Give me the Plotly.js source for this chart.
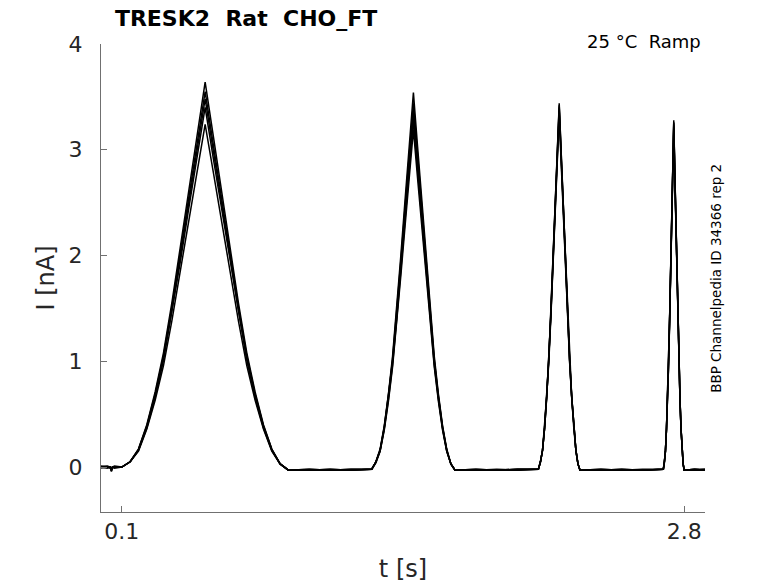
<!DOCTYPE html>
<html>
<head>
<meta charset="utf-8" />
<script src="https://cdn.plot.ly/plotly-3.0.1.min.js"></script>
<style>
  html, body { margin: 0; padding: 0; background: #fff; }
  #kurve { width: 778px; height: 583px; }
</style>
</head>
<body>
<div id="kurve"></div>
<script>
  // Zeitpunkte (s), gemeinsam fuer alle Sweeps
  const zeit = [
    0, 0.03, 0.045, 0.05, 0.055, 0.065, 0.1,
    0.14, 0.18, 0.22, 0.26, 0.30, 0.34, 0.38, 0.42, 0.46, 0.50,
    0.54, 0.58, 0.62, 0.66, 0.70, 0.74, 0.78, 0.82, 0.86, 0.90,
    1.0, 1.1, 1.2, 1.3,
    1.32, 1.34, 1.36, 1.38, 1.40, 1.42, 1.44, 1.46, 1.48, 1.50,
    1.52, 1.54, 1.56, 1.58, 1.60, 1.62, 1.64, 1.66, 1.68, 1.70,
    1.8, 1.9, 2.0, 2.1,
    2.11, 2.12, 2.13, 2.14, 2.15, 2.16, 2.17, 2.18, 2.19, 2.20,
    2.21, 2.22, 2.23, 2.24, 2.25, 2.26, 2.27, 2.28, 2.29, 2.30,
    2.4, 2.5, 2.6, 2.7,
    2.705, 2.71, 2.715, 2.72, 2.725, 2.73, 2.735, 2.74, 2.745, 2.75,
    2.755, 2.76, 2.765, 2.77, 2.775, 2.78, 2.785, 2.79, 2.795, 2.80,
    2.85, 2.9
  ];

  // Strom (nA), ein Array pro Sweep
  const sweep1 = [
    0.00, 0.01, 0.00, -0.04, 0.00, 0.00, 0.00,
    0.05, 0.17, 0.40, 0.71, 1.08, 1.55, 2.07, 2.60, 3.12, 3.64,
    3.12, 2.60, 2.07, 1.55, 1.08, 0.71, 0.40, 0.17, 0.03, -0.03,
    -0.03, -0.02, -0.03, -0.02,
    0.05, 0.17, 0.39, 0.69, 1.05, 1.51, 2.01, 2.53, 3.03, 3.54,
    3.03, 2.53, 2.01, 1.51, 1.05, 0.69, 0.39, 0.17, 0.03, -0.03,
    -0.03, -0.03, -0.02, -0.02,
    0.05, 0.16, 0.38, 0.67, 1.02, 1.47, 1.96, 2.46, 2.95, 3.44,
    2.95, 2.46, 1.96, 1.47, 1.02, 0.67, 0.38, 0.16, 0.03, -0.03,
    -0.03, -0.02, -0.03, -0.02,
    0.05, 0.15, 0.36, 0.64, 0.97, 1.40, 1.87, 2.34, 2.81, 3.28,
    2.81, 2.34, 1.87, 1.40, 0.97, 0.64, 0.36, 0.15, 0.03, -0.03,
    -0.02, -0.03
  ];
  const sweep2 = [
    -0.01, 0.00, -0.01, -0.03, -0.01, 0.00, 0.00,
    0.05, 0.17, 0.39, 0.69, 1.05, 1.51, 2.02, 2.53, 3.04, 3.55,
    3.04, 2.53, 2.02, 1.51, 1.05, 0.69, 0.39, 0.17, 0.03, -0.03,
    -0.02, -0.03, -0.02, -0.02,
    0.05, 0.16, 0.38, 0.67, 1.02, 1.47, 1.96, 2.46, 2.95, 3.44,
    2.95, 2.46, 1.96, 1.47, 1.02, 0.67, 0.38, 0.16, 0.03, -0.03,
    -0.02, -0.03, -0.03, -0.02,
    0.05, 0.16, 0.38, 0.67, 1.02, 1.46, 1.95, 2.44, 2.93, 3.42,
    2.93, 2.44, 1.95, 1.46, 1.02, 0.67, 0.38, 0.16, 0.03, -0.03,
    -0.03, -0.03, -0.02, -0.02,
    0.05, 0.15, 0.36, 0.64, 0.97, 1.39, 1.85, 2.33, 2.79, 3.26,
    2.79, 2.33, 1.85, 1.39, 0.97, 0.64, 0.36, 0.15, 0.03, -0.03,
    -0.03, -0.02
  ];
  const sweep3 = [
    0.00, -0.01, 0.00, -0.04, 0.00, 0.01, 0.00,
    0.05, 0.16, 0.38, 0.68, 1.03, 1.48, 1.98, 2.48, 2.98, 3.48,
    2.98, 2.48, 1.98, 1.48, 1.03, 0.68, 0.38, 0.16, 0.03, -0.03,
    -0.03, -0.03, -0.02, -0.02,
    0.05, 0.16, 0.37, 0.66, 1.00, 1.43, 1.91, 2.40, 2.88, 3.36,
    2.88, 2.40, 1.91, 1.43, 1.00, 0.66, 0.37, 0.16, 0.03, -0.03,
    -0.03, -0.02, -0.03, -0.02,
    0.05, 0.16, 0.37, 0.66, 1.01, 1.45, 1.93, 2.43, 2.91, 3.40,
    2.91, 2.43, 1.93, 1.45, 1.01, 0.66, 0.37, 0.16, 0.03, -0.03,
    -0.02, -0.03, -0.03, -0.02,
    0.05, 0.15, 0.36, 0.63, 0.97, 1.38, 1.85, 2.32, 2.79, 3.25,
    2.79, 2.32, 1.85, 1.38, 0.97, 0.63, 0.36, 0.15, 0.03, -0.03,
    -0.02, -0.02
  ];
  const sweep4 = [
    0.01, 0.00, 0.00, -0.02, 0.00, 0.00, 0.00,
    0.05, 0.16, 0.37, 0.66, 1.01, 1.45, 1.93, 2.43, 2.91, 3.40,
    2.91, 2.43, 1.93, 1.45, 1.01, 0.66, 0.37, 0.16, 0.03, -0.03,
    -0.02, -0.03, -0.03, -0.02,
    0.05, 0.15, 0.36, 0.64, 0.97, 1.40, 1.87, 2.34, 2.81, 3.28,
    2.81, 2.34, 1.87, 1.40, 0.97, 0.64, 0.36, 0.15, 0.03, -0.03,
    -0.02, -0.03, -0.02, -0.02,
    0.05, 0.16, 0.37, 0.66, 1.00, 1.44, 1.92, 2.41, 2.89, 3.37,
    2.89, 2.41, 1.92, 1.44, 1.00, 0.66, 0.37, 0.16, 0.03, -0.03,
    -0.03, -0.02, -0.03, -0.02,
    0.05, 0.15, 0.36, 0.63, 0.96, 1.38, 1.84, 2.31, 2.77, 3.23,
    2.77, 2.31, 1.84, 1.38, 0.96, 0.63, 0.36, 0.15, 0.03, -0.03,
    -0.03, -0.03
  ];
  const sweep5 = [
    0.00, 0.00, -0.01, -0.03, 0.00, -0.01, 0.00,
    0.05, 0.15, 0.36, 0.63, 0.96, 1.38, 1.84, 2.31, 2.78, 3.24,
    2.78, 2.31, 1.84, 1.38, 0.96, 0.63, 0.36, 0.15, 0.03, -0.03,
    -0.03, -0.02, -0.03, -0.02,
    0.04, 0.15, 0.35, 0.62, 0.95, 1.36, 1.82, 2.28, 2.73, 3.19,
    2.73, 2.28, 1.82, 1.36, 0.95, 0.62, 0.35, 0.15, 0.03, -0.03,
    -0.03, -0.03, -0.02, -0.02,
    0.05, 0.16, 0.37, 0.65, 0.99, 1.42, 1.89, 2.38, 2.85, 3.33,
    2.85, 2.38, 1.89, 1.42, 0.99, 0.65, 0.37, 0.16, 0.03, -0.03,
    -0.02, -0.03, -0.03, -0.02,
    0.04, 0.15, 0.35, 0.62, 0.95, 1.36, 1.82, 2.28, 2.74, 3.20,
    2.74, 2.28, 1.82, 1.36, 0.95, 0.62, 0.35, 0.15, 0.03, -0.03,
    -0.02, -0.03
  ];

  const sweeps = [sweep1, sweep2, sweep3, sweep4, sweep5];
  const xTicks = [0.1, 2.8];
  const xTickText = ["0.1", "2.8"];
  const yTicks = [0, 1, 2, 3, 4];

  const schrift = "DejaVu Sans, Verdana, sans-serif";
  const textFarbe = "#262626";
  const achsFarbe = "#707070";

  const traces = sweeps.map((s) => ({
    x: zeit,
    y: s,
    type: "scatter",
    mode: "lines",
    line: { color: "black", width: 1.5 },
    hoverinfo: "none",
    showlegend: false,
  }));

  const layout = {
    width: 778,
    height: 583,
    margin: { l: 101, r: 73, t: 44, b: 71 },
    paper_bgcolor: "white",
    plot_bgcolor: "white",
    showlegend: false,
    font: { family: schrift, color: textFarbe },
    title: {
      text: "<b>TRESK2\u00a0 Rat\u00a0 CHO_FT</b>",
      font: { family: schrift, size: 22, color: "black" },
      xref: "paper",
      x: 0.023,
      xanchor: "left",
      yref: "container",
      y: 0.969,
      yanchor: "middle",
    },
    xaxis: {
      range: [0, 2.9],
      tickvals: xTicks,
      ticktext: xTickText,
      ticks: "inside",
      ticklen: 6,
      tickcolor: achsFarbe,
      showline: true,
      linecolor: achsFarbe,
      linewidth: 1,
      showgrid: false,
      zeroline: false,
      tickfont: { size: 22, color: textFarbe },
      title: { text: "t [s]", font: { size: 24, color: textFarbe } },
    },
    yaxis: {
      range: [-0.425, 4],
      tickvals: yTicks,
      ticks: "inside",
      ticklen: 6,
      tickcolor: achsFarbe,
      ticklabelstandoff: 13,
      showline: true,
      linecolor: achsFarbe,
      linewidth: 1,
      showgrid: false,
      zeroline: false,
      tickfont: { size: 22, color: textFarbe },
      title: {
        text: "I [nA]",
        standoff: 7,
        font: { size: 24, color: textFarbe },
      },
    },
    annotations: [
      {
        text: "25 °C\u00a0 Ramp",
        xref: "paper",
        yref: "paper",
        x: 0.997,
        y: 1.0064,
        xanchor: "right",
        yanchor: "middle",
        showarrow: false,
        font: { size: 18, color: "black" },
      },
      {
        text: "BBP Channelpedia ID 34366 rep 2",
        xref: "paper",
        yref: "paper",
        x: 1.018,
        y: 0.5,
        xanchor: "center",
        yanchor: "middle",
        textangle: -90,
        showarrow: false,
        font: { size: 13.5, color: "black" },
      },
    ],
  };

  Plotly.newPlot("kurve", traces, layout, { displayModeBar: false, staticPlot: true });
</script>
</body>
</html>
